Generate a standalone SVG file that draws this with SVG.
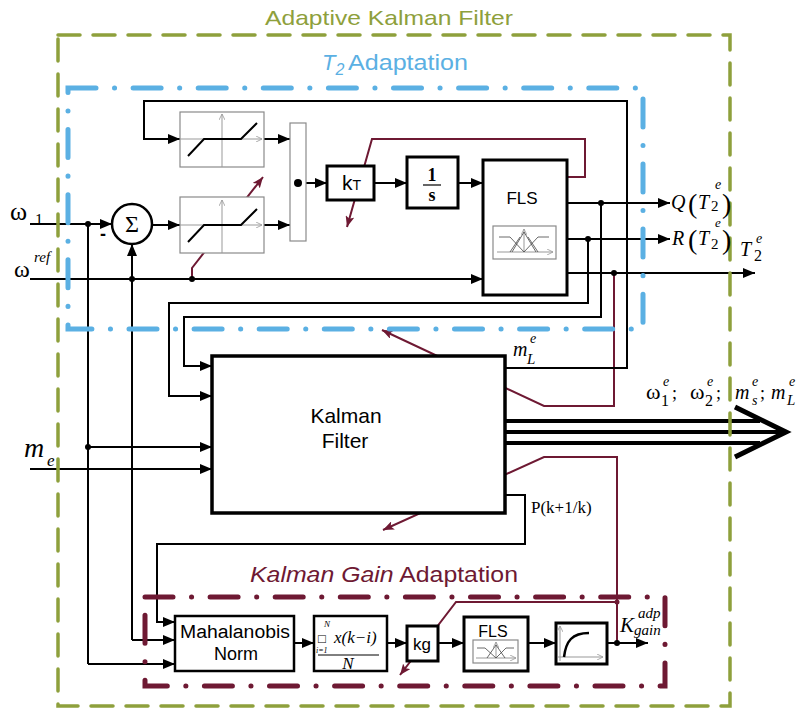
<svg xmlns="http://www.w3.org/2000/svg" width="797" height="715" viewBox="0 0 797 715">
<defs>
<marker id="ah" viewBox="0 0 12 10" refX="12" refY="5" markerWidth="12" markerHeight="10" markerUnits="userSpaceOnUse" orient="auto"><path d="M0,0 L12,5 L0,10 z" fill="#000"/></marker>
<marker id="am" viewBox="0 0 11 9" refX="11" refY="4.5" markerWidth="11" markerHeight="9" markerUnits="userSpaceOnUse" orient="auto"><path d="M0,0 L11,4.5 L0,9 L2.5,4.5 z" fill="#6E1933"/></marker>
<marker id="ag" viewBox="0 0 6 6" refX="6" refY="3" markerWidth="6" markerHeight="6" markerUnits="userSpaceOnUse" orient="auto"><path d="M0,0 L6,3 L0,6" fill="none" stroke="#999" stroke-width="0.8"/></marker>
</defs>
<style>
.ln{fill:none;stroke:#000;stroke-width:2}
.lna{fill:none;stroke:#000;stroke-width:2;marker-end:url(#ah)}
.mr{fill:none;stroke:#6E1933;stroke-width:2}
.mra{fill:none;stroke:#6E1933;stroke-width:2;marker-end:url(#am)}
.blk{fill:#fff;stroke:#000;stroke-width:3}
.gblk{fill:#fff;stroke:#8a8a8a;stroke-width:1.2}
.ax{fill:none;stroke:#999;stroke-width:1;marker-end:url(#ag)}
.dot{fill:#000}
.sans{font-family:"Liberation Sans",Arial,sans-serif}
.serif{font-family:"Liberation Serif","Times New Roman",serif}
.it{font-style:italic}
</style>
<rect width="797" height="715" fill="#fff"/>

<!-- titles -->
<text class="sans" x="389" y="25" font-size="21" fill="#8EA03C" text-anchor="middle" textLength="248" lengthAdjust="spacingAndGlyphs">Adaptive Kalman Filter</text>
<text class="sans" x="322" y="70" font-size="22" fill="#5BB0E3"><tspan font-style="italic">T</tspan><tspan font-style="italic" font-size="16" dy="5">2</tspan></text>
<text class="sans" x="348" y="70" font-size="22" fill="#5BB0E3" textLength="120" lengthAdjust="spacingAndGlyphs">Adaptation</text>
<text class="sans" x="250" y="582" font-size="22" fill="#6E1933" textLength="268" lengthAdjust="spacingAndGlyphs"><tspan font-style="italic">Kalman Gain</tspan> Adaptation</text>

<!-- connectors -->
<g id="connectors">
<polyline class="mra" points="192,279 192,268 263,177"/>
<polyline class="mra" points="567,177 585,177 585,139 372,139 347,227"/>
<polyline class="mra" points="614,273 614,406 544,406 382,330"/>
<polyline class="mra" points="617,643 617,457 544,457 383,530"/>
<polyline class="mra" points="617,602 456,602 400,675"/>
<circle cx="617" cy="602" r="2.5" fill="#6E1933"/>

<polyline class="lna" points="30,224 112,224"/>
<circle class="dot" cx="88" cy="224" r="3"/>
<polyline class="ln" points="88,224 88,664"/>
<polyline class="lna" points="88,664 175,664"/>
<circle class="dot" cx="88" cy="447" r="3"/>
<polyline class="lna" points="88,447 212,447"/>
<polyline class="lna" points="30,279 483,279"/>
<circle class="dot" cx="132" cy="279" r="3"/>
<circle class="dot" cx="192" cy="279" r="3"/>
<polyline class="lna" points="132,279 132,244"/>
<polyline class="ln" points="132,279 132,640"/>
<polyline class="lna" points="132,640 175,640"/>
<polyline class="lna" points="30,469 212,469"/>
<polyline class="lna" points="152,225 180,225"/>
<polyline class="lna" points="264,139 290,139"/>
<polyline class="lna" points="264,225 290,225"/>
<polyline class="lna" points="306,183 327,183"/>
<polyline class="lna" points="374,183 407,183"/>
<polyline class="lna" points="458,183 483,183"/>
<polyline class="lna" points="567,203 670,203"/>
<polyline class="lna" points="567,239 670,239"/>
<polyline class="lna" points="567,273 755,273"/>
<circle class="dot" cx="601" cy="203" r="3"/>
<circle class="dot" cx="588" cy="239" r="3"/>
<circle class="dot" cx="614" cy="273" r="3"/>
<polyline class="lna" points="601,203 601,317 184,317 184,366 212,366"/>
<polyline class="lna" points="588,239 588,303 169,303 169,396 212,396"/>
<polyline class="lna" points="505,368 627,368 627,101 144,101 144,139 180,139"/>
<polyline class="lna" points="505,495 525,495 525,544 157,544 157,622 175,622"/>
<polyline class="lna" points="294,643 314,643"/>
<polyline class="lna" points="387,643 407,643"/>
<polyline class="lna" points="438,643 464,643"/>
<polyline class="lna" points="528,643 556,643"/>
<polyline class="lna" points="607,643 648,643"/>
<circle class="dot" cx="617" cy="643" r="3"/>
<line x1="505" y1="421" x2="760" y2="421" stroke="#000" stroke-width="4"/>
<line x1="505" y1="432" x2="782" y2="432" stroke="#000" stroke-width="4"/>
<line x1="505" y1="443" x2="760" y2="443" stroke="#000" stroke-width="4"/>
<polyline points="735,407 786,432 735,457" fill="none" stroke="#000" stroke-width="5"/>
</g>

<!-- nodes -->
<g id="sum">
<circle cx="132" cy="224" r="20" fill="#fff" stroke="#000" stroke-width="2.5"/>
<text class="serif" x="132" y="232" font-size="24" text-anchor="middle">Σ</text>
<text class="sans" x="103" y="240" font-size="18" font-weight="bold" text-anchor="middle">-</text>
</g>
<g id="deadzone1">
<rect class="gblk" x="180" y="112" width="84" height="55"/>
<line class="ax" x1="222" y1="167" x2="222" y2="114"/>
<line class="ax" x1="180" y1="139" x2="262" y2="139"/>
<polyline points="188,156 204,139 241,139 257,123" fill="none" stroke="#000" stroke-width="2"/>
</g>
<g id="deadzone2">
<rect class="gblk" x="180" y="197" width="84" height="56"/>
<line class="ax" x1="222" y1="253" x2="222" y2="200"/>
<line class="ax" x1="180" y1="225" x2="262" y2="225"/>
<polyline points="188,242 204,225 241,225 257,209" fill="none" stroke="#000" stroke-width="2"/>
</g>
<g id="mux">
<rect class="gblk" x="290" y="123" width="16" height="118"/>
<circle class="dot" cx="298" cy="183" r="4"/>
</g>
<g id="kT">
<rect class="blk" x="327" y="166" width="47" height="34"/>
<text class="sans" x="342" y="190" font-size="21">k<tspan font-size="14">T</tspan></text>
</g>
<g id="integrator">
<rect class="blk" x="407" y="157" width="51" height="51"/>
<text class="serif" x="432" y="181" font-size="18" font-weight="bold" text-anchor="middle">1</text>
<line x1="423" y1="185" x2="441" y2="185" stroke="#000" stroke-width="1.2"/>
<text class="serif" x="432" y="201" font-size="18" font-weight="bold" text-anchor="middle">s</text>
</g>
<g id="fls1">
<rect class="blk" x="483" y="160" width="84" height="135"/>
<text class="sans" x="522" y="204" font-size="17" text-anchor="middle">FLS</text>
<rect class="gblk" x="493" y="226" width="63" height="33" stroke-width="1"/>
<line class="ax" x1="497" y1="252" x2="553" y2="252"/>
<line class="ax" x1="524" y1="252" x2="524" y2="229"/>
<g fill="none" stroke="#444" stroke-width="0.8">
<polyline points="499,237 510,237 524,252"/>
<polyline points="512,252 524,232 536,252"/>
<polyline points="524,252 538,237 549,237"/>
<line x1="510" y1="252" x2="520" y2="237"/>
<line x1="528" y1="237" x2="538" y2="252"/>
</g>
</g>
<g id="kalman">
<rect x="212" y="356" width="293" height="157" fill="#fff" stroke="#000" stroke-width="3.5"/>
<text class="sans" x="346" y="423" font-size="21" text-anchor="middle">Kalman</text>
<text class="sans" x="345" y="448" font-size="21" text-anchor="middle">Filter</text>
</g>
<g id="mahalanobis">
<rect x="175" y="616" width="119" height="55" fill="#fff" stroke="#000" stroke-width="2.5"/>
<text class="sans" x="235" y="638" font-size="18" text-anchor="middle" textLength="110" lengthAdjust="spacingAndGlyphs">Mahalanobis</text>
<text class="sans" x="236" y="660" font-size="18" text-anchor="middle">Norm</text>
</g>
<g id="average">
<rect x="314" y="616" width="73" height="55" fill="#fff" stroke="#000" stroke-width="2.5"/>
<text class="serif it" x="324" y="627" font-size="9">N</text>
<text class="serif" x="318" y="643" font-size="13">□</text>
<text class="serif it" x="316" y="653" font-size="8">i=1</text>
<text class="serif it" x="334" y="643" font-size="17">x(k−i)</text>
<line x1="318" y1="655" x2="379" y2="655" stroke="#000" stroke-width="1"/>
<text class="serif it" x="348" y="669" font-size="17" text-anchor="middle">N</text>
</g>
<g id="kg">
<rect class="blk" x="407" y="626" width="31" height="35"/>
<text class="sans" x="422" y="650" font-size="17" text-anchor="middle">kg</text>
</g>
<g id="fls2">
<rect class="blk" x="464" y="617" width="64" height="54"/>
<text class="sans" x="493" y="637" font-size="16" text-anchor="middle">FLS</text>
<rect class="gblk" x="473" y="640" width="45" height="23" stroke-width="1"/>
<line class="ax" x1="476" y1="658" x2="516" y2="658"/>
<line class="ax" x1="496" y1="658" x2="496" y2="642"/>
<g fill="none" stroke="#444" stroke-width="0.8">
<polyline points="477,648 485,648 496,658"/>
<polyline points="487,658 496,645 505,658"/>
<polyline points="496,658 506,648 514,648"/>
</g>
</g>
<g id="saturation">
<rect class="blk" x="556" y="623" width="51" height="41"/>
<line class="ax" x1="560" y1="661" x2="560" y2="626"/>
<line class="ax" x1="558" y1="657" x2="603" y2="657"/>
<path d="M564,657 C566,641 572,633 589,633" fill="none" stroke="#000" stroke-width="2.5"/>
</g>

<!-- frames -->
<g id="frames">
<rect x="68" y="88" width="575" height="241" fill="none" stroke="#5BB0E3" stroke-width="5" stroke-linecap="round" stroke-dasharray="28 18.5 0.1 18.5"/>
<rect x="145" y="597" width="520" height="89" fill="none" stroke="#6E1933" stroke-width="5" stroke-linecap="round" stroke-dasharray="28 18.5 0.1 18.5"/>
<rect x="58" y="35" width="672" height="671" fill="none" stroke="#8EA03C" stroke-width="3.5" stroke-linecap="round" stroke-dasharray="22 13"/>
</g>

<!-- labels -->
<g id="labels" class="serif">
<text x="10" y="220" font-size="26">ω</text>
<text x="35" y="225" font-size="16">1</text>
<text x="14" y="277" font-size="24">ω</text>
<text class="it" x="34" y="262" font-size="15">ref</text>
<text class="it" x="24" y="457" font-size="28">m</text>
<text class="it" x="47" y="466" font-size="17">e</text>

<text class="it" x="671" y="209" font-size="20">Q</text>
<text x="688" y="213" font-size="28">(</text>
<text class="it" x="698" y="209" font-size="20">T</text>
<text class="it" x="715" y="189" font-size="14">e</text>
<text x="711" y="211" font-size="15">2</text>
<text x="722" y="213" font-size="28">)</text>

<text class="it" x="672" y="245" font-size="20">R</text>
<text x="688" y="249" font-size="28">(</text>
<text class="it" x="698" y="245" font-size="20">T</text>
<text class="it" x="715" y="227" font-size="13">e</text>
<text x="711" y="249" font-size="15">2</text>
<text x="722" y="249" font-size="28">)</text>

<text class="it" x="740" y="256" font-size="20">T</text>
<text class="it" x="756" y="243" font-size="14">e</text>
<text x="754" y="261" font-size="16">2</text>

<text class="it" x="513" y="356" font-size="20">m</text>
<text class="it" x="530" y="343" font-size="14">e</text>
<text class="it" x="527" y="364" font-size="15">L</text>

<text x="646" y="399" font-size="22">ω</text>
<text class="it" x="663" y="386" font-size="14">e</text>
<text x="661" y="406" font-size="16">1</text>
<text x="672" y="399" font-size="18">;</text>
<text x="690" y="399" font-size="22">ω</text>
<text class="it" x="707" y="386" font-size="14">e</text>
<text x="705" y="406" font-size="16">2</text>
<text x="716" y="399" font-size="18">;</text>
<text class="it" x="735" y="399" font-size="20">m</text>
<text class="it" x="752" y="386" font-size="14">e</text>
<text class="it" x="752" y="405" font-size="14">s</text>
<text x="760" y="399" font-size="18">;</text>
<text class="it" x="771" y="399" font-size="20">m</text>
<text class="it" x="789" y="386" font-size="14">e</text>
<text class="it" x="787" y="405" font-size="15">L</text>

<text x="531" y="513" font-size="17">P(k+1/k)</text>

<text class="it" x="620" y="632" font-size="21">K</text>
<text class="it" x="638" y="618" font-size="15">adp</text>
<text class="it" x="634" y="635" font-size="15">gain</text>
</g>
</svg>
